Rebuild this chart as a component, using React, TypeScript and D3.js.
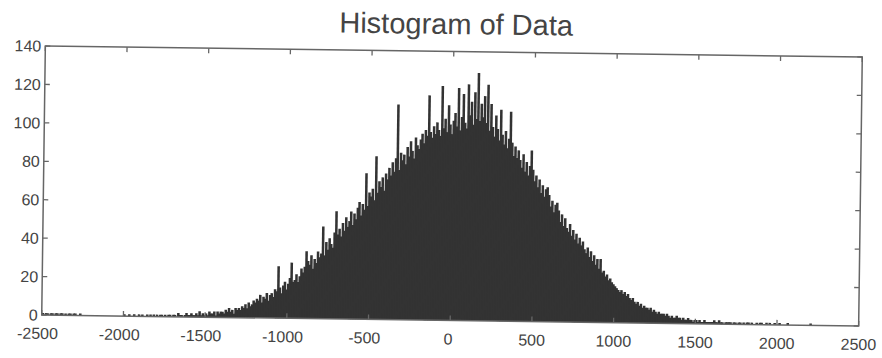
import React from "react";
import * as d3 from "d3";

// Histogram bins: start of first bin and bin width (data units)
const binStart = -2500;
const binWidth = 10;
// Counts per bin (rows of 10 bins = 100 units each)
const counts: number[] = [
  1,0,1,1,0,1,1,0,1,1,
  0,1,1,0,1,0,1,1,0,1,
  1,0,0,1,0,0,0,0,0,0,
  0,0,0,0,0,0,0,0,0,0,
  0,0,0,0,0,0,0,0,0,0,
  1,0,0,1,0,0,1,0,0,1,
  0,1,0,0,1,0,1,0,1,0,
  1,0,1,1,0,1,0,1,1,0,
  1,1,0,2,1,1,0,1,2,1,
  1,2,1,1,2,1,3,1,2,1,
  2,1,3,2,2,3,1,3,2,3,
  3,2,4,3,5,3,4,2,5,4,
  5,4,6,5,7,5,8,6,7,9,
  8,10,9,12,8,11,10,13,9,12,
  13,11,15,14,27,16,13,17,19,15,
  18,21,29,19,20,23,19,22,26,24,
  27,35,30,28,33,26,31,29,35,32,
  34,48,33,40,36,42,39,37,45,56,
  44,47,43,50,46,53,48,51,56,49,
  55,52,58,61,54,60,57,76,59,66,
  64,68,62,85,66,72,69,74,67,76,
  73,79,75,82,77,84,112,78,87,83,
  86,81,90,85,93,88,84,95,91,89,
  94,97,92,99,96,117,98,95,101,97,
  103,99,96,122,100,105,98,112,102,97,
  104,108,101,121,99,106,118,103,100,123,
  107,114,102,119,105,129,104,113,106,117,
  103,123,99,113,101,96,107,100,94,110,
  97,92,99,90,95,109,93,86,91,85,
  89,84,80,87,78,83,76,81,89,79,
  73,76,70,74,67,71,65,69,70,66,
  60,63,57,61,62,58,52,56,50,54,
  49,47,51,45,48,43,46,41,44,40,
  42,38,36,39,34,37,32,35,30,33,
  28,33,26,27,24,25,22,23,21,20,
  19,18,17,16,17,15,16,14,15,13,
  12,13,11,10,11,9,10,8,9,8,
  8,7,8,6,7,6,5,6,5,5,
  5,4,5,4,3,4,3,3,4,3,
  3,2,3,2,2,3,2,2,1,2,
  2,1,2,1,1,2,1,1,1,1,
  1,2,1,1,2,1,1,0,1,1,
  1,1,0,1,1,0,1,1,0,1,
  0,1,1,0,1,0,0,1,0,1,
  1,0,0,1,0,1,0,0,1,0,
  0,1,0,0,0,0,1,0,0,0,
  0,0,0,0,0,0,0,0,0,0,
  1,0,0,0,0,0,0,0,0,0,
  0,0,0,0,0,0,0,0,0,0,
  0,0,0,0,0,0,0,0,0,0,
];
const xTicks = [-2500, -2000, -1500, -1000, -500, 0, 500, 1000, 1500, 2000, 2500];
const yTicks = [0, 20, 40, 60, 80, 100, 120, 140];
const title = "Histogram of Data";

const W = 882, H = 358;
const M = { left: 43.5, right: 860.5, top: 51.5, bottom: 320.5 };

export default function App() {
  const x = d3.scaleLinear().domain([-2500, 2500]).range([M.left, M.right]);
  const y = d3.scaleLinear().domain([0, 140]).range([M.bottom, M.top]);
  const bins = counts.map((c, i) => ({ x0: binStart + i * binWidth, x1: binStart + (i + 1) * binWidth, c }));
  const axisColor = "#666";
  const textColor = "#444";
  const font = "'Liberation Sans', Arial, Helvetica, sans-serif";
  const tl = 5;
  return (
    <svg width={W} height={H} style={{ position: "absolute", left: 0, top: 0, display: "block", background: "#fff" }}>
      <g transform={`rotate(0.77, 452, 186)`}>
        <text x={454} y={34} textAnchor="middle" fontFamily={font} fontSize={29} fill={textColor}>{title}</text>
        <g>
          {bins.filter(b => b.c > 0).map((b, i) => (
            <rect key={i} x={x(b.x0) - 0.3} width={x(b.x1) - x(b.x0) + 0.9} y={y(b.c)} height={y(0) - y(b.c)} fill="#333" />
          ))}
        </g>
        <rect x={M.left} y={M.top} width={M.right - M.left} height={M.bottom - M.top} fill="none" stroke={axisColor} strokeWidth={1.5} />
        {xTicks.map(t => (
          <g key={"x" + t}>
            <line x1={x(t)} x2={x(t)} y1={M.bottom} y2={M.bottom - tl} stroke={axisColor} strokeWidth={1.3} />
            <line x1={x(t)} x2={x(t)} y1={M.top} y2={M.top + tl} stroke={axisColor} strokeWidth={1.3} />
            <text x={x(t)} dx={t < 0 ? -4 : t === 0 ? -2 : 0} y={M.bottom + 24} textAnchor="middle" fontFamily={font} fontSize={16} fill={textColor}>{t}</text>
          </g>
        ))}
        {yTicks.map(t => (
          <g key={"y" + t}>
            <line x1={M.left} x2={M.left + tl} y1={y(t)} y2={y(t)} stroke={axisColor} strokeWidth={1.3} />
            <line x1={M.right} x2={M.right - tl} y1={y(t)} y2={y(t)} stroke={axisColor} strokeWidth={1.3} />
            <text x={M.left - 4} y={y(t)} dy="0.36em" textAnchor="end" fontFamily={font} fontSize={16} fill={textColor}>{t}</text>
          </g>
        ))}
      </g>
    </svg>
  );
}
